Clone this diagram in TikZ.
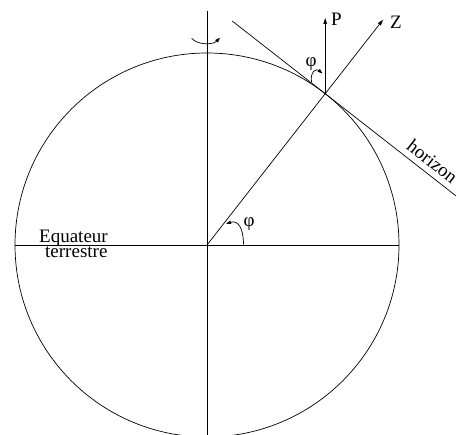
\documentclass[tikz,border=0pt]{standalone}
\usepackage{fontspec}
\setmainfont{Liberation Serif}
\usetikzlibrary{arrows.meta,calc}
\tikzset{
  ln/.style={line width=0.7pt},
  arr/.style={ln,-{Stealth[length=6pt,width=3.6pt,inset=0pt]}},
  sarr/.style={ln,-{Stealth[length=5pt,width=3.4pt,inset=0pt]}},
  lbl/.style={inner sep=0pt,font=\fontsize{19}{22}\selectfont}
}
\begin{document}
\begin{tikzpicture}[x=1pt,y=1pt]
\useasboundingbox (0,0) rectangle (460,434);
\coordinate (O) at (207,189);
\coordinate (T) at ($(O)+(52:192)$);
\coordinate (Ztip) at ($(O)+(52:286)$);
\coordinate (Ptip) at (T |- 0,416);
\coordinate (Hup) at ($(T)+(142:118)$);
\coordinate (Hdn) at ($(T)+(-38:166)$);
\coordinate (Atop) at (207,423);
\coordinate (Abot) at (207,-2);
\coordinate (Wl) at ($(O)+(180:192)$);
\coordinate (Wr) at ($(O)+(0:192)$);
% circle
\draw[ln] (O) circle[radius=192pt];
% axes
\draw[ln] (Atop) -- (Abot);
\draw[ln] (Wl) -- (Wr);
% Z direction
\draw[arr] (O) -- (Ztip);
% P vertical
\draw[arr] (T) -- (Ptip);
% horizon
\draw[ln] (Hup) -- (Hdn);
% rotation arrow
\coordinate (R1) at (191.7,395.7);
\coordinate (R2) at (220,396.3);
\draw[sarr] (R1) .. controls (197,389) and (213,389) .. (R2);
% angle at centre
\coordinate (C1) at (243.5,189.5);
\coordinate (C2) at (226,210.3);
\draw[sarr] (C1) .. controls (243.5,206) and (238,214) .. (C2);
% angle at tangent point
\coordinate (D1) at (311.5,352);
\coordinate (D2) at (322.5,360.5);
\draw[sarr] (D1) .. controls (310,362) and (316,366) .. (D2);
% labels
\node[lbl,anchor=base west] (eq) at (39,191.7) {Equateur};
\node[lbl,anchor=base west] (te) at (45,176.7) {terrestre};
\node[lbl,anchor=base west] (P) at (331,408.3) {P};
\node[lbl,anchor=base west] (Z) at (390,405.7) {Z};
\node[lbl] (phi1) at (311,369.5) {φ};
\node[lbl] (phi2) at (249,209.5) {φ};
\node[lbl,rotate=-38] (hz) at (432.5,272.5) {horizon};
\end{tikzpicture}
\end{document}
